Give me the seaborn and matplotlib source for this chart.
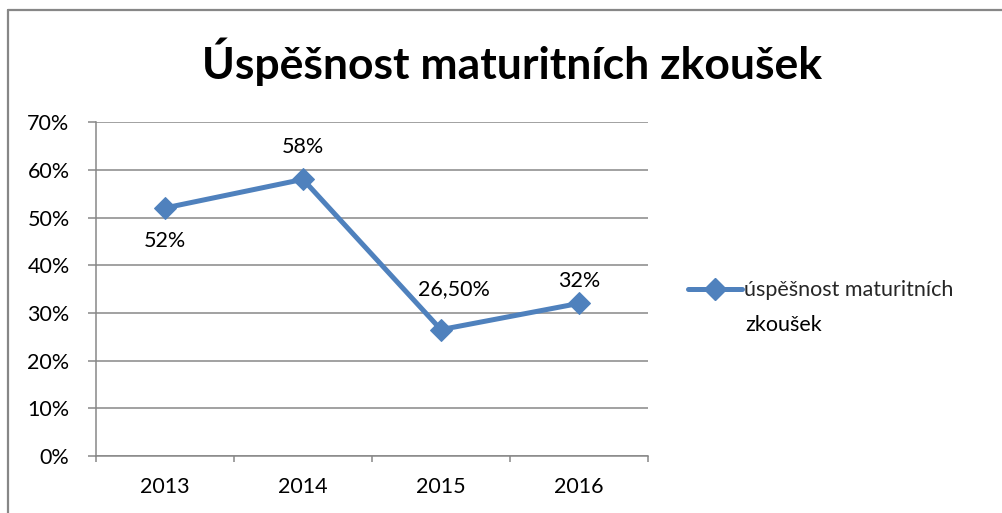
import matplotlib
matplotlib.use("Agg")
import matplotlib.pyplot as plt
import seaborn as sns
from matplotlib.lines import Line2D
from matplotlib.ticker import MultipleLocator, PercentFormatter

# data
years = ["2013", "2014", "2015", "2016"]
success = [52.0, 58.0, 26.5, 32.0]
value_labels = ["52%", "58%", "26,50%", "32%"]
series_name = "úspěšnost maturitních zkoušek"
title = "Úspěšnost maturitních zkoušek"

sns.set_theme(style="white")
plt.rcParams["font.family"] = ["Lato", "DejaVu Sans"]

blue = "#4F81BD"
gray = "#878787"
fs = 15.5

fig = plt.figure(figsize=(10.03, 5.13), dpi=100)
ax = fig.add_axes([0.0957, 0.111, 0.5503, 0.651])

sns.lineplot(x=years, y=success, ax=ax, color=blue, linewidth=3.6,
             marker="D", markersize=11, markeredgecolor=blue, sort=False)

ax.set_xlim(-0.5, len(years) - 0.5)
ax.set_ylim(0, 70)
ax.yaxis.set_major_locator(MultipleLocator(10))
ax.yaxis.set_major_formatter(PercentFormatter(decimals=0))
ax.set_xticks(range(len(years)))
ax.set_xticklabels(years)
ax.set_xticks([i - 0.5 for i in range(len(years) + 1)], minor=True)

ax.grid(axis="y", color=gray, linewidth=1.1)
ax.set_axisbelow(True)
for s in ["top", "right"]:
    ax.spines[s].set_visible(False)
for s in ["left", "bottom"]:
    ax.spines[s].set_color(gray)
    ax.spines[s].set_linewidth(1.1)

ax.tick_params(axis="y", which="major", left=True, length=6, width=1.1,
               color=gray, pad=13, labelsize=fs, labelcolor="black")
ax.tick_params(axis="x", which="major", bottom=False, length=0, pad=15,
               labelsize=fs, labelcolor="black")
ax.tick_params(axis="x", which="minor", bottom=True, length=4.5, width=1.1,
               color=gray)
ax.set_xlabel("")
ax.set_ylabel("")

# data labels (offsets in points)
offsets = [(0, -24), (0, 23), (9, 29), (0, 16)]
for i, (v, lab) in enumerate(zip(success, value_labels)):
    ax.annotate(lab, (i, v), xytext=offsets[i], textcoords="offset points",
                ha="center", va="center", fontsize=fs, color="black")

fig.text(0.511, 0.879, title, ha="center", va="center", fontsize=32,
         fontweight="bold", color="black")

# legend: handle on first line, wrapped second line below
first, second = series_name.rsplit(" ", 1)
handle = Line2D([], [], color=blue, linewidth=3.6, marker="D", markersize=11)
leg = fig.legend([handle], [first], loc="center left",
                 bbox_to_anchor=(0.675, 0.434), frameon=False, fontsize=fs,
                 handlelength=2.5, handletextpad=0.1, borderpad=0)
fig.text(0.743, 0.366, second, ha="left", va="center", fontsize=fs,
         color="black")

# outer chart border (left and top edges visible)
fig.add_artist(Line2D([0.0075, 0.0075], [0, 0.981], color=gray,
                      linewidth=1.6, transform=fig.transFigure))
fig.add_artist(Line2D([0.0075, 1.0], [0.981, 0.981], color=gray,
                      linewidth=1.6, transform=fig.transFigure))

fig.savefig("out.png", dpi=100)
